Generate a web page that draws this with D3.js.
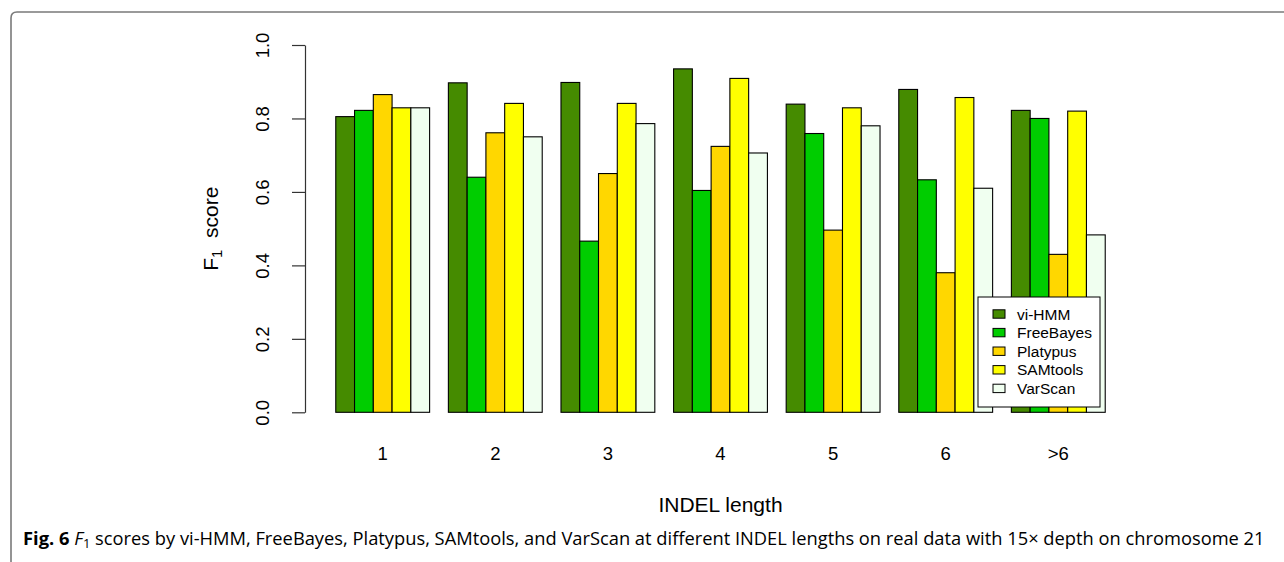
<!DOCTYPE html>
<html>
<head>
<meta charset="utf-8">
<script src="https://cdn.jsdelivr.net/npm/d3@7"></script>
<style>
  body { margin: 0; background: #fff; }
  svg { display: block; }
  .axisText { font-family: "Liberation Sans", Arial, sans-serif; fill: #000; }
  .caption { font-family: "Open Sans", "Noto Sans", sans-serif; fill: #000; }
</style>
</head>
<body>
<svg id="chart" width="1284" height="562"></svg>
<script>
// Data
var lengths = ["1", "2", "3", "4", "5", "6", ">6"];
var methods = ["vi-HMM", "FreeBayes", "Platypus", "SAMtools", "VarScan"];
var viHMM     = [0.805, 0.897, 0.898, 0.935, 0.839, 0.879, 0.822];
var freeBayes = [0.822, 0.640, 0.466, 0.604, 0.759, 0.633, 0.800];
var platypus  = [0.865, 0.761, 0.650, 0.724, 0.496, 0.380, 0.430];
var samtools  = [0.829, 0.841, 0.841, 0.909, 0.829, 0.857, 0.820];
var varscan   = [0.829, 0.750, 0.786, 0.706, 0.780, 0.610, 0.483];
var yTicks = [0, 0.2, 0.4, 0.6, 0.8, 1.0];
var captionText = " scores by vi-HMM, FreeBayes, Platypus, SAMtools, and VarScan at different INDEL lengths on real data with 15\u00d7 depth on chromosome 21";

var seriesValues = [viHMM, freeBayes, platypus, samtools, varscan];
var colors = ["#458B00", "#00CD00", "#FFD700", "#FFFF00", "#F0FFF0"];

// Plot region (R style, 4% padding around the bars)
var plot = { left: 305, right: 1136, top: 45, bottom: 412.3 };

var svg = d3.select("#chart");

// Scales
var xScale = d3.scaleBand()
               .domain(lengths)
               .range([plot.left, plot.right])
               .paddingInner(1/6)
               .paddingOuter(1.64/6);
var innerScale = d3.scaleBand()
                   .domain(methods)
                   .range([0, xScale.bandwidth()]);
var yScale = d3.scaleLinear()
               .domain([0, 1])
               .range([plot.bottom, plot.top]);
var colorScale = d3.scaleOrdinal()
                   .domain(methods)
                   .range(colors);

// Figure frame
svg.append("path")
   .attr("d", "M11,562V18Q11,12 17,12H1284")
   .style("fill", "none")
   .style("stroke", "#7a7a7a")
   .style("stroke-width", 1.6);

// Bars
var rows = lengths.map(function(len, i) {
  return { len: len, vals: methods.map(function(m, j) { return { method: m, value: seriesValues[j][i] }; }) };
});

var groups = svg.selectAll(".group")
                .data(rows)
                .enter()
                .append("g")
                .attr("class", "group")
                .attr("transform", function(d) { return "translate(" + xScale(d.len) + ",0)"; });

groups.selectAll("rect")
      .data(function(d) { return d.vals; })
      .enter()
      .append("rect")
      .attr("x", function(d) { return innerScale(d.method); })
      .attr("y", function(d) { return yScale(d.value); })
      .attr("width", innerScale.bandwidth())
      .attr("height", function(d) { return yScale(0) - yScale(d.value); })
      .style("fill", function(d) { return colorScale(d.method); })
      .style("stroke", "#000")
      .style("stroke-width", 1.1);

// Y axis
var yAxis = svg.append("g")
               .attr("transform", "translate(" + plot.left + ",0)")
               .call(d3.axisLeft(yScale)
                       .tickValues(yTicks)
                       .tickFormat(d3.format(".1f"))
                       .tickSize(13)
                       .tickSizeOuter(0));
yAxis.select(".domain").style("stroke", "#333").style("stroke-width", 1.2);
yAxis.selectAll(".tick line").style("stroke", "#333").style("stroke-width", 1.2);
yAxis.selectAll(".tick text")
     .attr("class", "axisText")
     .attr("x", 0)
     .attr("y", 0)
     .attr("dy", null)
     .attr("transform", "translate(-36,0) rotate(-90)")
     .attr("text-anchor", "middle")
     .style("font-size", "18.5px");
yAxis.attr("font-family", null).attr("font-size", null);

// X group labels
svg.selectAll(".xLabel")
   .data(lengths)
   .enter()
   .append("text")
   .attr("class", "axisText")
   .attr("x", function(d) { return xScale(d) + xScale.bandwidth()/2; })
   .attr("y", 460)
   .attr("text-anchor", "middle")
   .style("font-size", "18.5px")
   .text(function(d) { return d; });

// Axis titles
svg.append("text")
   .attr("class", "axisText")
   .attr("x", (plot.left + plot.right)/2)
   .attr("y", 512)
   .attr("text-anchor", "middle")
   .style("font-size", "21px")
   .text("INDEL length");

var yTitle = svg.append("text")
                .attr("class", "axisText")
                .attr("transform", "translate(218," + ((plot.top + plot.bottom)/2) + ") rotate(-90)")
                .attr("text-anchor", "middle")
                .style("font-size", "21px");
yTitle.append("tspan").text("F");
yTitle.append("tspan").attr("dy", 4).style("font-size", "15px").text("1");
yTitle.append("tspan").attr("dy", -4).text("\u00a0\u00a0score");

// Legend
var legend = svg.append("g").attr("class", "legend");
legend.append("rect")
      .attr("x", 978)
      .attr("y", 297)
      .attr("width", 122)
      .attr("height", 110)
      .style("fill", "#fff")
      .style("stroke", "#000")
      .style("stroke-width", 1);
var legendItem = legend.selectAll(".legendItem")
                       .data(methods)
                       .enter()
                       .append("g")
                       .attr("class", "legendItem")
                       .attr("transform", function(d, i) { return "translate(993," + (314 + i*18.6) + ")"; });
legendItem.append("rect")
          .attr("x", 0)
          .attr("y", -4.2)
          .attr("width", 12)
          .attr("height", 8.4)
          .style("fill", function(d) { return colorScale(d); })
          .style("stroke", "#000")
          .style("stroke-width", 1);
legendItem.append("text")
          .attr("class", "axisText")
          .attr("x", 24)
          .attr("y", 5.5)
          .style("font-size", "15.5px")
          .text(function(d) { return d; });

// Caption
var capSize = 17;
var caption = svg.append("text")
                 .attr("class", "caption")
                 .attr("x", 23)
                 .attr("y", 545)
                 .style("font-size", capSize + "px");
caption.append("tspan").style("font-weight", "bold").text("Fig. 6 ");
caption.append("tspan").style("font-style", "italic").text("F");
var capSub = caption.append("tspan").attr("dy", 3).style("font-size", "12px").text("1");
caption.append("tspan").attr("dy", -3).text(captionText);

// fit caption font to the printed width
var fit = 1242 / caption.node().getComputedTextLength();
caption.style("font-size", (capSize*fit) + "px");
capSub.style("font-size", (12*fit) + "px");
</script>
</body>
</html>
